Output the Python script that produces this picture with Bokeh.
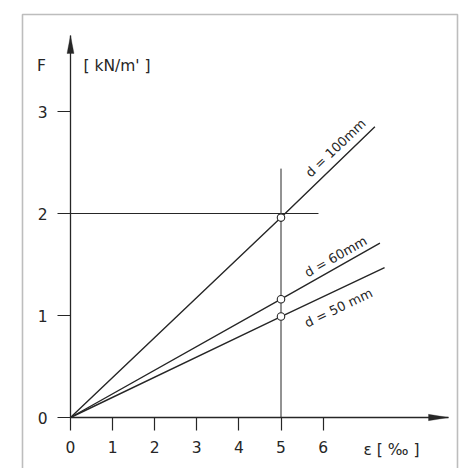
import math
from bokeh.plotting import figure
from bokeh.models import Range1d, FixedTicker, Label, BoxAnnotation, PolyAnnotation
from bokeh.embed import file_html
from bokeh.resources import INLINE
from bokeh.core.properties import value

# ---------------- data ----------------
series_labels = ["d = 100mm", "d = 60mm", "d = 50 mm"]
eps_d100 = [0, 5, 7.23]
F_d100 = [0, 1.96, 2.85]
eps_d60 = [0, 5, 7.35]
F_d60 = [0, 1.16, 1.71]
eps_d50 = [0, 5, 7.46]
F_d50 = [0, 0.99, 1.47]
marker_eps = [5, 5, 5]
marker_F = [1.96, 1.16, 0.99]
x_ticks = [0, 1, 2, 3, 4, 5, 6]
y_ticks = [0, 1, 2, 3]
guide_v_eps = [5, 5]
guide_v_F = [0, 2.44]
guide_h_eps = [0, 5.89]
guide_h_F = [2, 2]
x_title = "ε  [ ‰ ]"
y_title = "F"
y_unit = "[ kN/m' ]"

# ---------------- layout ----------------
W, H = 465, 468
OX, OY = 70, 417          # pixel position of the origin
ppu_x, ppu_y = 42.1, 102.0  # pixels per data unit
X_TIP = (448 - OX) / ppu_x  # end of the x axis arrow
Y_TIP = (OY - 35) / ppu_y   # end of the y axis arrow
INK = "#262626"
FONT = "DejaVu Sans"

p = figure(width=W, height=H, output_backend="svg", toolbar_location=None,
           x_range=Range1d(-OX / ppu_x, (W - OX) / ppu_x),
           y_range=Range1d(-(H - OY) / ppu_y, OY / ppu_y),
           min_border=0)
p.outline_line_color = None
p.grid.visible = False
p.background_fill_color = "white"
p.border_fill_color = "white"

for ax, ticks, tip in ((p.xaxis[0], x_ticks, X_TIP), (p.yaxis[0], y_ticks, Y_TIP)):
    ax.fixed_location = 0
    ax.bounds = (0, tip)
    ax.ticker = FixedTicker(ticks=ticks)
    ax.minor_tick_line_color = None
    ax.major_tick_in = 0
    ax.major_tick_out = 13
    ax.major_tick_line_color = INK
    ax.major_tick_line_width = 1.2
    ax.axis_line_color = INK
    ax.axis_line_width = 1.3
    ax.major_label_text_font = FONT
    ax.major_label_text_font_size = "15.5px"
    ax.major_label_text_color = INK
    ax.major_label_standoff = 10

# guide lines
p.line(guide_v_eps, guide_v_F, line_color=INK, line_width=1.0)
p.line(guide_h_eps, guide_h_F, line_color=INK, line_width=1.0)

# series lines
series = [(eps_d100, F_d100), (eps_d60, F_d60), (eps_d50, F_d50)]
for xs, ys in series:
    p.line(xs, ys, line_color=INK, line_width=1.4)

p.scatter(marker_eps, marker_F, size=7.5, fill_color="white", line_color=INK, line_width=1.1)

# rotated line labels
label_pos = [(5.63, 2.38), (5.58, 1.41), (5.58, 0.92)]
for (xs, ys), txt, (lx, ly) in zip(series, series_labels, label_pos):
    ang = math.atan((ys[-1] / xs[-1]) * ppu_y / ppu_x)
    p.text(x=[lx], y=[ly], text=[txt], angle=ang, text_font=value(FONT),
           text_font_size="13px", text_color=INK, text_align="left", text_baseline="alphabetic")

# axis arrow heads
hl_y, hw_y = 18 / ppu_y, 3.5 / ppu_x
p.add_layout(PolyAnnotation(xs=[0, -hw_y, hw_y], ys=[Y_TIP, Y_TIP - hl_y, Y_TIP - hl_y],
                            fill_color=INK, fill_alpha=1, line_color=INK, line_width=1))
hl_x, hw_x = 20 / ppu_x, 3.2 / ppu_y
p.add_layout(PolyAnnotation(xs=[X_TIP, X_TIP - hl_x, X_TIP - hl_x], ys=[0, hw_x, -hw_x],
                            fill_color=INK, fill_alpha=1, line_color=INK, line_width=1))

# axis titles
p.add_layout(Label(x=-29 / ppu_x, y=352 / ppu_y, text=y_title, text_font=FONT, text_font_size="15.5px",
                   text_color=INK, text_align="center", text_baseline="middle"))
p.add_layout(Label(x=13 / ppu_x, y=352 / ppu_y, text=y_unit, text_font=FONT, text_font_size="15.5px",
                   text_color=INK, text_align="left", text_baseline="middle"))
p.add_layout(Label(x=293 / ppu_x, y=-32 / ppu_y, text=x_title, text_font=FONT, text_font_size="15.5px",
                   text_color=INK, text_align="left", text_baseline="middle"))

# outer frame of the drawing
p.add_layout(BoxAnnotation(left=(22 - OX) / ppu_x, right=(457 - OX) / ppu_x,
                           top=(OY - 14) / ppu_y, bottom=-(H + 20 - OY) / ppu_y,
                           fill_alpha=0, line_color=INK, line_width=1.6))

open("out.html", "w").write(file_html(p, INLINE))
